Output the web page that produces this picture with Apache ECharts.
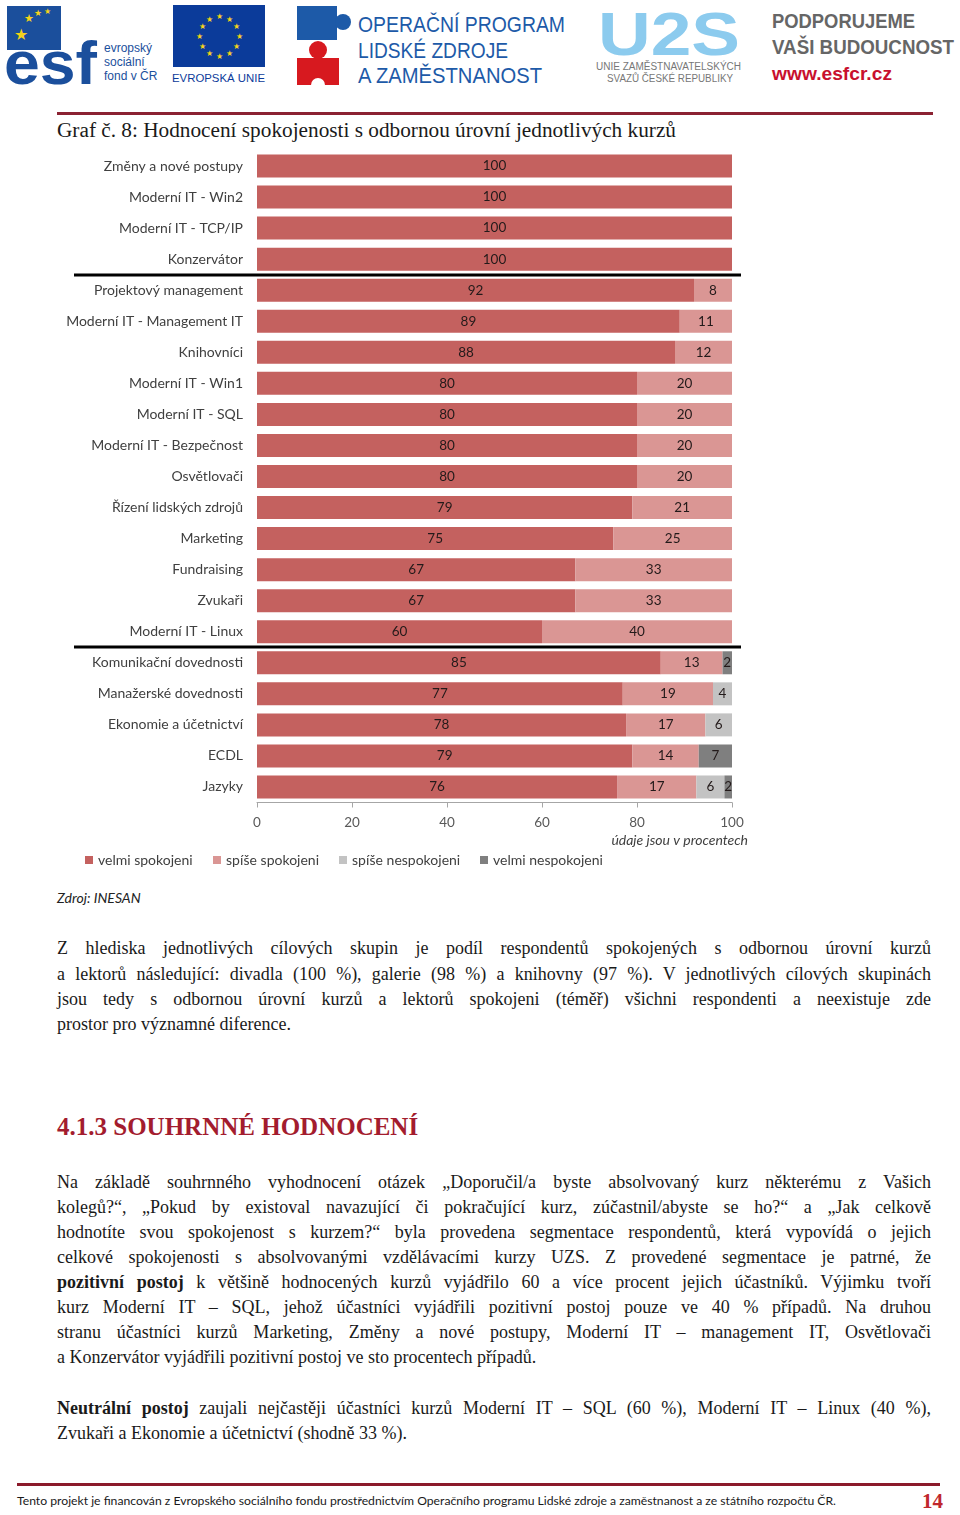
<!DOCTYPE html>
<html lang="cs">
<head>
<meta charset="utf-8">
<script src="https://cdn.jsdelivr.net/npm/echarts@6/dist/echarts.min.js"></script>
<style>
  html,body{margin:0;padding:0;background:#fff;}
  #page{position:relative;width:960px;height:1515px;overflow:hidden;background:#fff;}
  .abs{position:absolute;}
  .ln{position:absolute;left:57px;width:874px;height:25px;line-height:25px;font-family:"Liberation Serif",serif;font-size:18px;color:#1a1a1a;white-space:nowrap;}
  .j{text-align:justify;text-align-last:justify;white-space:normal;}
</style>
</head>
<body>
<div id="page">
  <svg class="abs" style="left:0;top:0" width="960" height="95" xmlns="http://www.w3.org/2000/svg">
    <!-- ESF -->
    <rect x="7" y="6" width="54" height="44" fill="#1b4f9c"/>
    <text x="24" y="22" font-size="11" fill="#f4d31a">★</text>
    <text x="34" y="16" font-size="9" fill="#f4d31a">★</text>
    <text x="44" y="14" font-size="8" fill="#f4d31a">★</text>
    <text x="14" y="40" font-size="16" fill="#f4d31a">★</text>
    <text x="4" y="84" font-family="Liberation Sans" font-weight="bold" font-size="62" fill="#1b4f9c" textLength="93" lengthAdjust="spacingAndGlyphs">esf</text>
    <text x="104" y="52" font-family="Liberation Sans" font-size="12" fill="#1b4f9c">evropský</text>
    <text x="104" y="66" font-family="Liberation Sans" font-size="12" fill="#1b4f9c">sociální</text>
    <text x="104" y="80" font-family="Liberation Sans" font-size="12" fill="#1b4f9c">fond v ČR</text>
    <!-- EU -->
    <rect x="173" y="5" width="92" height="62" fill="#0b3b9a"/>
    <g font-size="8" fill="#f4d31a" text-anchor="middle">
      <text x="219" y="19">★</text><text x="229" y="22">★</text><text x="236" y="29">★</text>
      <text x="239" y="39">★</text><text x="236" y="49">★</text><text x="229" y="56">★</text>
      <text x="219" y="59">★</text><text x="209" y="56">★</text><text x="202" y="49">★</text>
      <text x="199" y="39">★</text><text x="202" y="29">★</text><text x="209" y="22">★</text>
    </g>
    <text x="172" y="82" font-family="Liberation Sans" font-size="11" fill="#0b3b9a" textLength="93" lengthAdjust="spacingAndGlyphs">EVROPSKÁ UNIE</text>
    <!-- OP LZZ -->
    <rect x="297" y="6" width="40" height="34" fill="#1d5aa8"/>
    <circle cx="343" cy="22" r="8" fill="#1d5aa8"/>
    <circle cx="318" cy="50" r="9" fill="#d7191f"/>
    <rect x="297" y="58" width="42" height="27" fill="#d7191f"/>
    <circle cx="318" cy="85" r="7" fill="#fff"/>
    <text x="358" y="32" font-family="Liberation Sans" font-size="22" fill="#1d5aa8" textLength="207" lengthAdjust="spacingAndGlyphs">OPERAČNÍ PROGRAM</text>
    <text x="358" y="58" font-family="Liberation Sans" font-size="22" fill="#1d5aa8" textLength="150" lengthAdjust="spacingAndGlyphs">LIDSKÉ ZDROJE</text>
    <text x="358" y="83" font-family="Liberation Sans" font-size="22" fill="#1d5aa8" textLength="184" lengthAdjust="spacingAndGlyphs">A ZAMĚSTNANOST</text>
    <!-- U2S -->
    <text x="598" y="55" font-family="Liberation Sans" font-weight="bold" font-size="62" fill="#8ccbee" textLength="142" lengthAdjust="spacingAndGlyphs">U2S</text>
    <text x="596" y="70" font-family="Liberation Sans" font-size="10" fill="#777" textLength="145" lengthAdjust="spacingAndGlyphs">UNIE ZAMĚSTNAVATELSKÝCH</text>
    <text x="607" y="82" font-family="Liberation Sans" font-size="10" fill="#777" textLength="126" lengthAdjust="spacingAndGlyphs">SVAZŮ ČESKÉ REPUBLIKY</text>
    <!-- PODPORUJEME -->
    <text x="772" y="28" font-family="Liberation Sans" font-weight="bold" font-size="20" fill="#666" textLength="143" lengthAdjust="spacingAndGlyphs">PODPORUJEME</text>
    <text x="772" y="54" font-family="Liberation Sans" font-weight="bold" font-size="20" fill="#666" textLength="182" lengthAdjust="spacingAndGlyphs">VAŠI BUDOUCNOST</text>
    <text x="772" y="80" font-family="Liberation Sans" font-weight="bold" font-size="18" fill="#c8102e" textLength="120" lengthAdjust="spacingAndGlyphs">www.esfcr.cz</text>
  </svg>

  <div class="abs" style="left:57px;top:112px;width:876px;height:3px;background:#8b2232;"></div>
  <svg class="abs" style="left:0;top:115px" width="960" height="30" xmlns="http://www.w3.org/2000/svg">
    <text x="57" y="22" font-family="Liberation Serif" font-size="20" fill="#1a1a1a" textLength="619" lengthAdjust="spacingAndGlyphs">Graf č. 8: Hodnocení spokojenosti s odbornou úrovní jednotlivých kurzů</text>
  </svg>

  <div id="chart" class="abs" style="left:0;top:140px;width:960px;height:740px;"></div>

  <div class="abs" style="left:57px;top:889px;font-family:Lato,sans-serif;font-style:italic;font-size:14px;color:#222;">Zdroj: INESAN</div>

  <div class="ln j" style="top:936px;">Z hlediska jednotlivých cílových skupin je podíl respondentů spokojených s odbornou úrovní kurzů</div>
  <div class="ln j" style="top:962px;">a lektorů následující: divadla (100 %), galerie (98 %) a knihovny (97 %). V jednotlivých cílových skupinách</div>
  <div class="ln j" style="top:987px;">jsou tedy s odbornou úrovní kurzů a lektorů spokojeni (téměř) všichni respondenti a neexistuje zde</div>
  <div class="ln" style="top:1012px;">prostor pro významné diference.</div>

  <div class="abs" style="left:57px;top:1113px;font-family:'Liberation Serif',serif;font-weight:bold;font-size:25px;color:#a31c2e;">4.1.3 SOUHRNNÉ HODNOCENÍ</div>

  <div class="ln j" style="top:1170px;">Na základě souhrnného vyhodnocení otázek „Doporučil/a byste absolvovaný kurz některému z Vašich</div>
  <div class="ln j" style="top:1195px;">kolegů?“, „Pokud by existoval navazující či pokračující kurz, zúčastnil/abyste se ho?“ a „Jak celkově</div>
  <div class="ln j" style="top:1220px;">hodnotíte svou spokojenost s kurzem?“ byla provedena segmentace respondentů, která vypovídá o jejich</div>
  <div class="ln j" style="top:1245px;">celkové spokojenosti s absolvovanými vzdělávacími kurzy UZS. Z provedené segmentace je patrné, že</div>
  <div class="ln j" style="top:1270px;"><b>pozitivní postoj</b> k většině hodnocených kurzů vyjádřilo 60 a více procent jejich účastníků. Výjimku tvoří</div>
  <div class="ln j" style="top:1295px;">kurz Moderní IT – SQL, jehož účastníci vyjádřili pozitivní postoj pouze ve 40 % případů. Na druhou</div>
  <div class="ln j" style="top:1320px;">stranu účastníci kurzů Marketing, Změny a nové postupy, Moderní IT – management IT, Osvětlovači</div>
  <div class="ln" style="top:1345px;">a Konzervátor vyjádřili pozitivní postoj ve sto procentech případů.</div>

  <div class="ln j" style="top:1396px;"><b>Neutrální postoj</b> zaujali nejčastěji účastníci kurzů Moderní IT – SQL (60 %), Moderní IT – Linux (40 %),</div>
  <div class="ln" style="top:1421px;">Zvukaři a Ekonomie a účetnictví (shodně 33 %).</div>

  <div class="abs" style="left:17px;top:1483px;width:923px;height:3px;background:#8b1a2a;"></div>
  <svg class="abs" style="left:0;top:1488px" width="960" height="27" xmlns="http://www.w3.org/2000/svg">
    <text x="17" y="17" font-family="Lato" font-size="12" fill="#1a1a1a" textLength="819" lengthAdjust="spacingAndGlyphs">Tento projekt je financován z Evropského sociálního fondu prostřednictvím Operačního programu Lidské zdroje a zaměstnanost a ze státního rozpočtu ČR.</text>
    <text x="922" y="20" font-family="Liberation Serif" font-weight="bold" font-size="21" fill="#c0272d">14</text>
  </svg>
</div>

<script>
const categories = [
  'Změny a nové postupy','Moderní IT - Win2','Moderní IT - TCP/IP','Konzervátor',
  'Projektový management','Moderní IT - Management IT','Knihovníci','Moderní IT - Win1',
  'Moderní IT - SQL','Moderní IT - Bezpečnost','Osvětlovači','Řízení lidských zdrojů',
  'Marketing','Fundraising','Zvukaři','Moderní IT - Linux',
  'Komunikační dovednosti','Manažerské dovednosti','Ekonomie a účetnictví','ECDL','Jazyky'
];
const velmiSpokojeni   = [100,100,100,100,92,89,88,80,80,80,80,79,75,67,67,60,85,77,77.7,79,75.8];
const spiseSpokojeni   = [0,0,0,0,8,11,12,20,20,20,20,21,25,33,33,40,13,19,16.7,14,16.7];
const spiseNespokojeni = [0,0,0,0,0,0,0,0,0,0,0,0,0,0,0,0,0,4,5.6,0,5.9];
const velmiNespokojeni = [0,0,0,0,0,0,0,0,0,0,0,0,0,0,0,0,2,0,0,7,1.6];
const seriesNames = ['velmi spokojeni','spíše spokojeni','spíše nespokojeni','velmi nespokojeni'];
const seriesColors = ['#c4615f','#da9694','#c3c3c3','#7f7f7f'];
const xTickLabels = ['0','20','40','60','80','100'];
const groupStarts = [4, 16];
const unitNote = 'údaje jsou v procentech';

const FONT = 'Lato, sans-serif';
const chart = echarts.init(document.getElementById('chart'), null, {renderer:'canvas'});
const dataSets = [velmiSpokojeni, spiseSpokojeni, spiseNespokojeni, velmiNespokojeni];
const legendLeft = [85, 213, 339, 480];

const option = {
  animation: false,
  textStyle: {fontFamily: FONT},
  grid: {left: 257, right: 228, top: 10.5, height: 652, containLabel: false},
  xAxis: {
    type: 'value', min: 0, max: 100, interval: 20,
    axisLine: {show: true, lineStyle: {color: '#a6a6a6', width: 1}},
    axisTick: {show: true, length: 5, lineStyle: {color: '#a6a6a6'}},
    splitLine: {show: false},
    axisLabel: {color: '#595959', fontSize: 13.5, fontFamily: FONT, margin: 13,
      formatter: (v) => xTickLabels[Math.round(v / 20)] }
  },
  yAxis: {
    type: 'category', data: categories, inverse: true,
    axisLine: {show: false}, axisTick: {show: false},
    axisLabel: {color: '#404040', fontSize: 14, fontFamily: FONT, margin: 14}
  },
  legend: seriesNames.map((n, i) => ({
    data: [n], left: legendLeft[i], top: 713, itemWidth: 8, itemHeight: 8, icon: 'rect',
    itemGap: 0, padding: 0, textStyle: {color: '#404040', fontSize: 14, fontFamily: FONT}
  })),
  series: seriesNames.map((n, i) => ({
    name: n, type: 'bar', stack: 'total', barWidth: 23,
    itemStyle: {color: seriesColors[i]},
    label: {show: true, position: 'inside', color: '#231a1a', fontSize: 13.5, fontFamily: FONT,
      formatter: (p) => p.value > 0 ? String(Math.round(p.value)) : ''},
    data: dataSets[i]
  }))
};
chart.setOption(option);

const yOf = (idx) => chart.convertToPixel({yAxisIndex: 0}, categories[idx]);
const sepLines = groupStarts.map(s => {
  const y = Math.round((yOf(s - 1) + yOf(s)) / 2);
  return {type: 'line', shape: {x1: 74, y1: y, x2: 741, y2: y}, style: {stroke: '#000', lineWidth: 3}, z: 100};
});
const x100 = chart.convertToPixel({xAxisIndex: 0}, 100);
chart.setOption({
  graphic: sepLines.concat([{
    type: 'text', right: 960 - x100 - 16, top: 693,
    style: {text: unitNote, font: 'italic 14px ' + FONT, fill: '#404040'}
  }])
});
</script>
</body>
</html>
